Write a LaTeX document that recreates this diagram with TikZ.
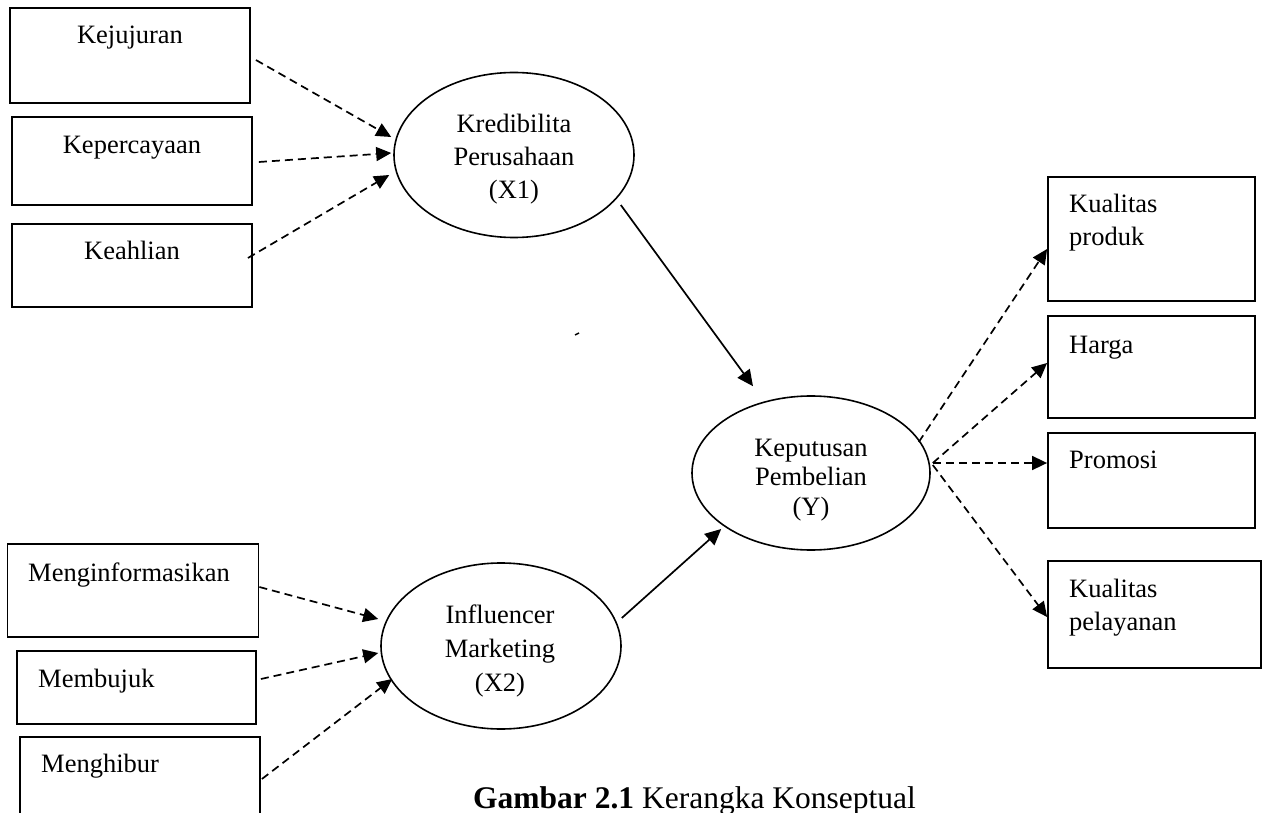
\documentclass[tikz,border=0pt]{standalone}
\usepackage{fontspec}
\setmainfont{Liberation Serif}
\usetikzlibrary{arrows.meta,shapes.geometric}
\begin{document}
\begin{tikzpicture}[x=1pt,y=-1pt,
  box/.style={draw, rectangle, line width=1.8pt, inner sep=0pt},
  ell/.style={draw, ellipse, line width=1.6pt, inner sep=0pt},
  lbl/.style={inner sep=0pt, font=\fontsize{26.5}{33}\selectfont},
  mlbl/.style={lbl, text width=220pt, align=center, anchor=base},
  llbl/.style={lbl, text width=170pt, align=left, anchor=base west},
  dasharrow/.style={line width=1.7pt, dash pattern=on 8pt off 5pt, -{Triangle[length=15pt,width=14pt]}},
  solidarrow/.style={line width=1.7pt, -{Triangle[length=16pt,width=15pt]}}]
\path[use as bounding box] (0,0) rectangle (1267,813);
\clip (0,0) rectangle (1267,813);

% left boxes (top group)
\node[box, minimum width=240, minimum height=95] (kej) at (130,55.5) {};
\node[lbl, anchor=base] (kejt) at (130,44) {Kejujuran};
\node[box, minimum width=240, minimum height=88] (kep) at (132,161) {};
\node[lbl, anchor=base] (kept) at (132,154) {Kepercayaan};
\node[box, minimum width=240, minimum height=83] (kea) at (132,265.5) {};
\node[lbl, anchor=base] (keat) at (132,260) {Keahlian};

% left boxes (bottom group)
\node[box, minimum width=251, minimum height=93] (meng) at (133,590.5) {};
\node[lbl, anchor=base west] (mengt) at (28,581) {Menginformasikan};
\node[box, minimum width=239, minimum height=73] (memb) at (136.5,687.5) {};
\node[lbl, anchor=base west] (membt) at (38,687) {Membujuk};
\node[box, minimum width=240, minimum height=93] (menh) at (140,783.5) {};
\node[lbl, anchor=base west] (menht) at (41,772) {Menghibur};

% ellipses
\node[ell, minimum width=240, minimum height=165] (x1) at (514,155) {};
\node[mlbl] (x1t) at (514,133) {Kredibilita\\Perusahaan\\(X1)};
\node[ell, minimum width=240, minimum height=166] (x2) at (501,646) {};
\node[mlbl, font=\fontsize{26.5}{34}\selectfont] (x2t) at (500,623) {Influencer\\Marketing\\(X2)};
\node[ell, minimum width=238, minimum height=154] (y) at (811,473) {};
\node[mlbl, font=\fontsize{26.5}{29.5}\selectfont] (yt) at (811,456) {Keputusan\\Pembelian\\(Y)};

% right boxes
\node[box, minimum width=207, minimum height=124] (kp) at (1151.5,239) {};
\node[llbl] (kpt) at (1069,213) {Kualitas\\produk};
\node[box, minimum width=207, minimum height=102] (harga) at (1151.5,367) {};
\node[llbl] (hargat) at (1069,353) {Harga};
\node[box, minimum width=207, minimum height=95] (promosi) at (1151.5,480.5) {};
\node[llbl] (promosit) at (1069,468) {Promosi};
\node[box, minimum width=213, minimum height=107] (kpel) at (1154.5,614.5) {};
\node[llbl] (kpelt) at (1069,597) {Kualitas\\pelayanan};

% dashed indicator arrows
\draw[dasharrow] ([shift={(5,4.5)}]kej.east) -- ([shift={(-2,-18)}]x1.west);
\draw[dasharrow] ([shift={(6,1)}]kep.east) -- ([shift={(-2,-2)}]x1.west);
\draw[dasharrow] ([shift={(-5,-7.5)}]kea.east) -- ([shift={(-4,20)}]x1.west);
\draw[dasharrow] ([shift={(0,-3.5)}]meng.east) -- ([shift={(-2,-27)}]x2.west);
\draw[dasharrow] ([shift={(4,-8.5)}]memb.east) -- ([shift={(-2,7)}]x2.west);
\draw[dasharrow] ([shift={(1,-4.5)}]menh.east) -- ([shift={(12,33)}]x2.west);
\draw[dasharrow] ([shift={(-12,-31)}]y.east) -- ([shift={(0,10)}]kp.west);
\draw[dasharrow] ([shift={(2,-10)}]y.east) -- ([shift={(0,-4)}]harga.west);
\draw[dasharrow] ([shift={(2,-10)}]y.east) -- ([shift={(0,-17.5)}]promosi.west);
\draw[dasharrow] ([shift={(2,-8)}]y.east) -- ([shift={(0,2.5)}]kpel.west);

% solid path arrows
\draw[solidarrow] ([shift={(-14,50)}]x1.east) -- ([shift={(-58,-9)}]y.north);
\draw[solidarrow] ([shift={(0,-28)}]x2.east) -- ([shift={(30,56)}]y.west);

% stray mark
\draw[line width=1.5pt] (575,335) -- (579,333);

% caption
\node[inner sep=0pt, anchor=base west, font=\fontsize{31.5}{36}\selectfont] (cap) at (473,808) {\textbf{Gambar 2.1} Kerangka Konseptual};
\end{tikzpicture}
\end{document}
